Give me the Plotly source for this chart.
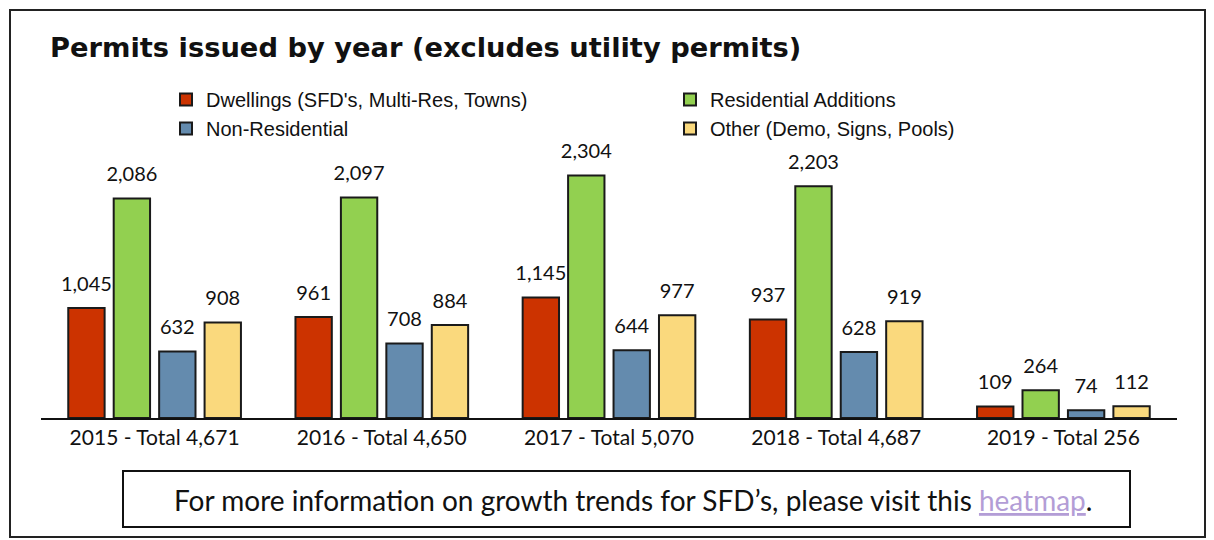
import plotly.graph_objects as go

categories = ["2015 - Total 4,671", "2016 - Total 4,650", "2017 - Total 5,070",
              "2018 - Total 4,687", "2019 - Total 256"]
dwellings = [1045, 961, 1145, 937, 109]
res_additions = [2086, 2097, 2304, 2203, 264]
non_residential = [632, 708, 644, 628, 74]
other = [908, 884, 977, 919, 112]

series = [
    ("Dwellings (SFD's, Multi-Res, Towns)", dwellings, "#CC3300"),
    ("Residential Additions", res_additions, "#92D050"),
    ("Non-Residential", non_residential, "#648BAE"),
    ("Other (Demo, Signs, Pools)", other, "#FAD97D"),
]

GILL = "Lato"
W, H = 1214, 540
OFF = 8  # page body margin: figure is drawn 8px right/down of the page origin
# plot area in page pixels
X0, X1, Y0, Y1 = 41, 1177, 155, 418
L, R, T, B = X0 - OFF, W - (X1 - OFF), Y0 - OFF, H - (Y1 - OFF)
PW, PH = X1 - X0, Y1 - Y0

def px(x):
    return (x - X0) / PW

def py(y):
    return (Y1 - y) / PH

fig = go.Figure()
for i, (name, vals, col) in enumerate(series):
    fig.add_trace(go.Bar(
        name=name, x=categories, y=vals, offsetgroup=str(i),
        marker=dict(color=col, line=dict(color="#1a1a1a", width=2)),
        hoverinfo="skip",
    ))
for i, (name, vals, col) in enumerate(series):
    fig.add_trace(go.Scatter(
        x=categories, y=vals, mode="markers+text", offsetgroup=str(i),
        text=[f"{v:,}" for v in vals], textposition="top center",
        textfont=dict(family=GILL, size=20, color="#111"),
        marker=dict(size=18, opacity=0), showlegend=False, hoverinfo="skip",
        cliponaxis=False,
    ))

fig.update_layout(
    width=W, height=H,
    margin=dict(l=L, r=R, t=T, b=B, autoexpand=False),
    paper_bgcolor="white", plot_bgcolor="white",
    barmode="group", bargap=0.2, bargroupgap=0.2,
    scattermode="group", scattergap=0.2,
    title=dict(text="<b>Permits issued by year (excludes utility permits)</b>",
               font=dict(family="DejaVu Sans", size=27.3, color="#111"),
               x=(50 - OFF) / W, xanchor="left", xref="container",
               y=1 - (47 - OFF) / H, yanchor="middle", yref="container"),
    legend=dict(orientation="h", x=px(166), xanchor="left", y=py(80), yanchor="top",
                entrywidth=459, entrywidthmode="pixels",
                font=dict(family="Liberation Sans", size=20, color="#111"),
                bgcolor="rgba(0,0,0,0)", traceorder="normal"),
    xaxis=dict(showline=True, linecolor="#111", linewidth=1.5, ticks="",
               tickfont=dict(family=GILL, size=21, color="#111"),
               showgrid=False, zeroline=False, fixedrange=True),
    yaxis=dict(range=[0, 2500], showticklabels=False, showgrid=False,
               zeroline=False, showline=False, fixedrange=True),
    showlegend=True,
)

fig.add_shape(type="rect", xref="paper", yref="paper",
              x0=px(10), x1=px(1205), y0=py(537), y1=py(10),
              line=dict(color="#222", width=2), fillcolor="rgba(0,0,0,0)", layer="below")
fig.add_shape(type="rect", xref="paper", yref="paper",
              x0=px(123), x1=px(1130), y0=py(527), y1=py(471),
              line=dict(color="#111", width=2), fillcolor="rgba(0,0,0,0)")
fig.add_annotation(
    xref="paper", yref="paper", x=px(633), y=py(500), xanchor="center", yanchor="middle",
    showarrow=False,
    text="For more information on growth trends for SFD\u2019s, please visit this "
         "<a href='#'><span style='color:#B39DD6'><u>heatmap</u></span></a>.",
    font=dict(family=GILL, size=28, color="#111"),
)

fig.write_html("out.html")
